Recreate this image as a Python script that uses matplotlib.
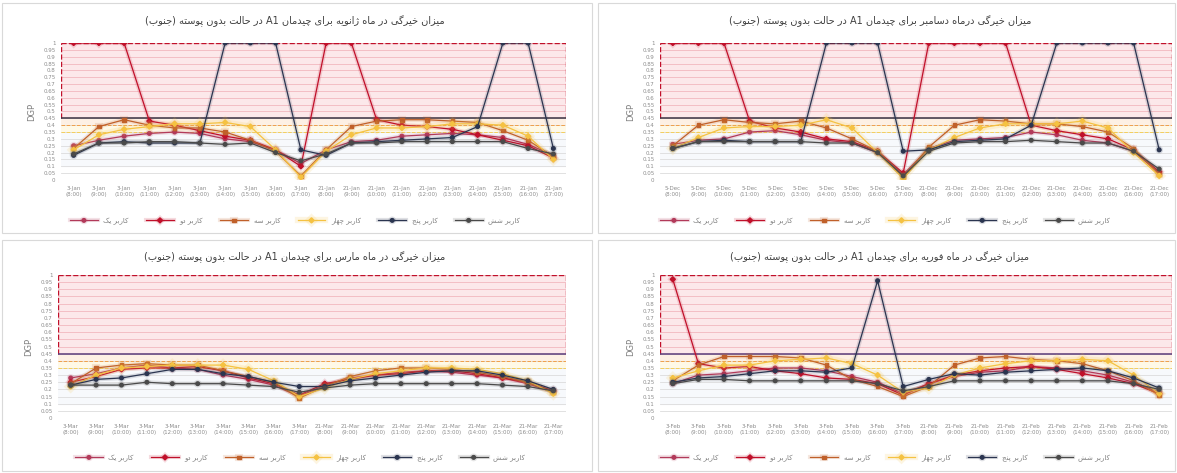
import re
import matplotlib
matplotlib.use("Agg")
import matplotlib.pyplot as plt
import matplotlib.patheffects as pe
from matplotlib.patches import Rectangle

# Persian letter forms: (isolated, final, initial, medial)
# matplotlib does no arabic shaping / bidi, so do a small one by hand
FORMS = {
    'ا': ('\uFE8D', '\uFE8E', None, None),
    'ب': ('\uFE8F', '\uFE90', '\uFE91', '\uFE92'),
    'پ': ('\uFB56', '\uFB57', '\uFB58', '\uFB59'),
    'ت': ('\uFE95', '\uFE96', '\uFE97', '\uFE98'),
    'ج': ('\uFE9D', '\uFE9E', '\uFE9F', '\uFEA0'),
    'چ': ('\uFB7A', '\uFB7B', '\uFB7C', '\uFB7D'),
    'ح': ('\uFEA1', '\uFEA2', '\uFEA3', '\uFEA4'),
    'خ': ('\uFEA5', '\uFEA6', '\uFEA7', '\uFEA8'),
    'د': ('\uFEA9', '\uFEAA', None, None),
    'ر': ('\uFEAD', '\uFEAE', None, None),
    'ز': ('\uFEAF', '\uFEB0', None, None),
    'ژ': ('\uFB8A', '\uFB8B', None, None),
    'س': ('\uFEB1', '\uFEB2', '\uFEB3', '\uFEB4'),
    'ش': ('\uFEB5', '\uFEB6', '\uFEB7', '\uFEB8'),
    'ف': ('\uFED1', '\uFED2', '\uFED3', '\uFED4'),
    'ک': ('\uFB8E', '\uFB8F', '\uFB90', '\uFB91'),
    'گ': ('\uFB92', '\uFB93', '\uFB94', '\uFB95'),
    'ل': ('\uFEDD', '\uFEDE', '\uFEDF', '\uFEE0'),
    'م': ('\uFEE1', '\uFEE2', '\uFEE3', '\uFEE4'),
    'ن': ('\uFEE5', '\uFEE6', '\uFEE7', '\uFEE8'),
    'و': ('\uFEED', '\uFEEE', None, None),
    'ه': ('\uFEE9', '\uFEEA', '\uFEEB', '\uFEEC'),
    'ی': ('\uFBFC', '\uFBFD', '\uFBFE', '\uFBFF'),
}


def fa(text):
    out = []
    for i, c in enumerate(text):
        if c not in FORMS:
            out.append(c)
            continue
        prev = text[i - 1] if i > 0 else ''
        nxt = text[i + 1] if i + 1 < len(text) else ''
        jp = prev in FORMS and FORMS[prev][2] is not None
        jn = nxt in FORMS and FORMS[c][2] is not None
        iso, fin, ini, med = FORMS[c]
        if jp and jn:
            out.append(med)
        elif jp:
            out.append(fin)
        elif jn:
            out.append(ini)
        else:
            out.append(iso)
    vis = ''.join(out)[::-1]
    vis = re.sub(r'[A-Za-z0-9]+', lambda m: m.group(0)[::-1], vis)
    return vis.translate(str.maketrans('()', ')('))


hours = ['8:00', '9:00', '10:00', '11:00', '12:00', '13:00', '14:00', '15:00', '16:00', '17:00']
users = ['کاربر یک', 'کاربر دو', 'کاربر سه', 'کاربر چهار', 'کاربر پنج', 'کاربر شش']

# ---------------- January ----------------
jan_days = ['3-Jan', '21-Jan']
jan_u1 = [0.25, 0.29, 0.32, 0.34, 0.35, 0.34, 0.30, 0.28, 0.22, 0.12, 0.22, 0.28, 0.29, 0.32, 0.33, 0.34, 0.33, 0.31, 0.26, 0.18]
jan_u2 = [1.00, 1.00, 1.00, 0.43, 0.40, 0.36, 0.32, 0.29, 0.22, 0.10, 1.00, 1.00, 0.44, 0.40, 0.39, 0.37, 0.33, 0.29, 0.25, 0.16]
jan_u3 = [0.23, 0.39, 0.44, 0.40, 0.38, 0.38, 0.35, 0.29, 0.21, 0.03, 0.22, 0.39, 0.43, 0.44, 0.44, 0.43, 0.42, 0.36, 0.29, 0.17]
jan_u4 = [0.22, 0.33, 0.37, 0.39, 0.41, 0.41, 0.42, 0.39, 0.22, 0.02, 0.21, 0.33, 0.38, 0.38, 0.39, 0.41, 0.41, 0.40, 0.32, 0.15]
jan_u5 = [0.18, 0.27, 0.28, 0.27, 0.27, 0.27, 1.00, 1.00, 1.00, 0.22, 0.18, 0.27, 0.28, 0.29, 0.30, 0.31, 0.39, 1.00, 1.00, 0.23]
jan_u6 = [0.19, 0.27, 0.27, 0.28, 0.28, 0.27, 0.26, 0.27, 0.20, 0.14, 0.19, 0.27, 0.27, 0.28, 0.28, 0.28, 0.28, 0.28, 0.23, 0.19]

# ---------------- December ----------------
dec_days = ['5-Dec', '21-Dec']
dec_u1 = [0.26, 0.29, 0.30, 0.35, 0.36, 0.33, 0.29, 0.27, 0.20, 0.04, 0.23, 0.29, 0.30, 0.31, 0.35, 0.33, 0.29, 0.27, 0.21, 0.05]
dec_u2 = [1.00, 1.00, 1.00, 0.43, 0.38, 0.35, 0.30, 0.28, 0.21, 0.05, 1.00, 1.00, 1.00, 1.00, 0.40, 0.36, 0.33, 0.30, 0.22, 0.06]
dec_u3 = [0.25, 0.40, 0.44, 0.42, 0.41, 0.43, 0.38, 0.30, 0.21, 0.02, 0.24, 0.40, 0.44, 0.43, 0.41, 0.41, 0.39, 0.35, 0.23, 0.04]
dec_u4 = [0.23, 0.31, 0.38, 0.39, 0.39, 0.40, 0.44, 0.38, 0.20, 0.01, 0.22, 0.31, 0.38, 0.41, 0.41, 0.41, 0.43, 0.38, 0.20, 0.03]
dec_u5 = [0.23, 0.28, 0.29, 0.28, 0.28, 0.28, 1.00, 1.00, 1.00, 0.21, 0.22, 0.28, 0.29, 0.30, 0.40, 1.00, 1.00, 1.00, 1.00, 0.22]
dec_u6 = [0.23, 0.28, 0.28, 0.28, 0.28, 0.28, 0.27, 0.27, 0.20, 0.03, 0.21, 0.27, 0.28, 0.28, 0.29, 0.28, 0.27, 0.27, 0.21, 0.08]

# ---------------- March ----------------
mar_days = ['3-Mar', '21-Mar']
mar_u1 = [0.28, 0.31, 0.35, 0.37, 0.35, 0.34, 0.30, 0.27, 0.23, 0.15, 0.23, 0.28, 0.30, 0.32, 0.33, 0.32, 0.30, 0.28, 0.24, 0.18]
mar_u2 = [0.25, 0.29, 0.34, 0.35, 0.35, 0.36, 0.33, 0.28, 0.24, 0.16, 0.24, 0.27, 0.30, 0.31, 0.33, 0.33, 0.31, 0.28, 0.25, 0.19]
mar_u3 = [0.24, 0.35, 0.37, 0.38, 0.37, 0.37, 0.33, 0.29, 0.25, 0.14, 0.22, 0.29, 0.33, 0.35, 0.35, 0.34, 0.32, 0.29, 0.25, 0.18]
mar_u4 = [0.22, 0.30, 0.35, 0.36, 0.37, 0.37, 0.37, 0.34, 0.26, 0.15, 0.21, 0.27, 0.31, 0.33, 0.35, 0.35, 0.34, 0.31, 0.26, 0.17]
mar_u5 = [0.23, 0.27, 0.28, 0.31, 0.34, 0.34, 0.31, 0.29, 0.25, 0.22, 0.22, 0.26, 0.28, 0.30, 0.32, 0.33, 0.33, 0.30, 0.26, 0.20]
mar_u6 = [0.23, 0.23, 0.23, 0.25, 0.24, 0.24, 0.24, 0.23, 0.22, 0.18, 0.21, 0.23, 0.24, 0.24, 0.24, 0.24, 0.24, 0.23, 0.22, 0.19]

# ---------------- February ----------------
feb_days = ['3-Feb', '21-Feb']
feb_u1 = [0.24, 0.30, 0.31, 0.33, 0.35, 0.35, 0.33, 0.29, 0.25, 0.17, 0.24, 0.29, 0.32, 0.33, 0.36, 0.35, 0.33, 0.30, 0.25, 0.18]
feb_u2 = [0.97, 0.38, 0.35, 0.36, 0.33, 0.31, 0.28, 0.27, 0.24, 0.16, 0.24, 0.30, 0.33, 0.35, 0.36, 0.34, 0.31, 0.28, 0.24, 0.17]
feb_u3 = [0.26, 0.37, 0.43, 0.43, 0.43, 0.42, 0.37, 0.27, 0.22, 0.15, 0.22, 0.37, 0.42, 0.43, 0.41, 0.40, 0.38, 0.33, 0.26, 0.16]
feb_u4 = [0.28, 0.33, 0.37, 0.37, 0.40, 0.41, 0.42, 0.38, 0.30, 0.18, 0.21, 0.30, 0.35, 0.38, 0.40, 0.40, 0.41, 0.40, 0.30, 0.17]
feb_u5 = [0.25, 0.28, 0.29, 0.31, 0.33, 0.33, 0.32, 0.35, 0.96, 0.22, 0.27, 0.31, 0.30, 0.32, 0.33, 0.34, 0.35, 0.33, 0.28, 0.21]
feb_u6 = [0.24, 0.27, 0.27, 0.26, 0.26, 0.26, 0.26, 0.26, 0.24, 0.19, 0.22, 0.26, 0.26, 0.26, 0.26, 0.26, 0.26, 0.26, 0.24, 0.20]

titles = {
    'jan': 'میزان خیرگی در ماه ژانویه برای چیدمان A1 در حالت بدون پوسته (جنوب)',
    'dec': 'میزان خیرگی درماه دسامبر برای چیدمان A1 در حالت بدون پوسته (جنوب)',
    'mar': 'میزان خیرگی در ماه مارس برای چیدمان A1 در حالت بدون پوسته (جنوب)',
    'feb': 'میزان خیرگی در ماه فوریه برای چیدمان A1 در حالت بدون پوسته (جنوب)',
}

colors = ['#B23A5A', '#C0102A', '#C0602A', '#F5C242', '#2B3550', '#4A4A4A']
markers = ['o', 'D', 's', 'D', 'o', 'o']

W, H = 1177, 473
fig = plt.figure(figsize=(W / 100, H / 100), dpi=100)


def px(x0, y0, x1, y1):
    # pixel box -> figure fraction [left, bottom, width, height]
    return [x0 / W, 1 - y1 / H, (x1 - x0) / W, (y1 - y0) / H]


def panel(frame, axbox, title_xy, legend_xy, key, days, series, mid_color):
    fig.add_artist(Rectangle((frame[0], frame[1]), frame[2], frame[3],
                             transform=fig.transFigure, fill=False,
                             edgecolor='#D9D9D9', lw=0.8))
    ax = fig.add_axes(axbox)
    n = len(series[0])
    x = list(range(n))

    # glare zones
    ax.axhspan(0.45, 1.0, color='#FCE8EA', zorder=0)
    ax.axhspan(0.40, 0.45, color='#FDF0E4', zorder=0)
    ax.axhspan(0.35, 0.40, color='#FFF9E6', zorder=0)
    ax.axhspan(0.10, 0.35, color='#F7F9FC', zorder=0)
    ticks = [i * 0.05 for i in range(21)]
    for t in ticks:
        ax.axhline(t, color='#F2B8BE' if t > 0.45 else '#DCDCDC', lw=0.6, zorder=1)
    ax.plot([-0.5, 19.5], [1, 1], color='#C0102A', ls='--', lw=1.0, zorder=2)
    ax.plot([-0.5, -0.5], [0.45, 1], color='#C0102A', ls='--', lw=1.0, zorder=2)
    ax.plot([19.5, 19.5], [0.45, 1], color='#C0102A', ls='--', lw=1.0, zorder=2)
    ax.axhline(0.40, color='#F0A04B', ls='--', lw=0.7, zorder=2)
    ax.axhline(0.35, color='#F5CF5B', ls='--', lw=0.7, zorder=2)
    ax.axhline(0.45, color=mid_color, lw=1.1, zorder=2)

    for i, (vals, name) in enumerate(zip(series, users)):
        glow = 4.5 if i == 3 else 3
        ax.plot(x, vals, color=colors[i], lw=0.9, marker=markers[i], ms=2.6,
                label=fa(name), zorder=5 + i,
                path_effects=[pe.Stroke(linewidth=glow, foreground=colors[i], alpha=0.15),
                              pe.Normal()])

    ax.set_xlim(-0.5, n - 0.5)
    ax.set_ylim(0, 1.0)
    ax.set_yticks(ticks)
    ax.set_yticklabels([f'{round(t, 2):g}' for t in ticks])
    labels = [f'{d}\n({h})' for d in days for h in hours]
    ax.set_xticks(x)
    ax.set_xticklabels(labels, linespacing=1.4)
    ax.tick_params(axis='both', length=0, labelsize=4, colors='#8C8C8C', pad=4)
    ax.set_ylabel('DGP', fontsize=6, color='#7F7F7F', labelpad=5)
    for s in ax.spines.values():
        s.set_visible(False)
    ax.set_facecolor('white')

    fig.text(title_xy[0] / W, 1 - title_xy[1] / H, fa(titles[key]),
             ha='center', va='center', fontsize=7, color='#404040')
    ax.legend(loc='center', bbox_to_anchor=(legend_xy[0] / W, 1 - legend_xy[1] / H),
              bbox_transform=fig.transFigure, ncol=6, frameon=False,
              fontsize=5, handlelength=4, columnspacing=2.5, labelcolor='#7F7F7F')
    return ax


panel((2 / W, 1 - 233 / H, 590 / W, 230 / H), px(61, 43, 566, 180), (295, 21), (295, 221),
      'jan', jan_days, [jan_u1, jan_u2, jan_u3, jan_u4, jan_u5, jan_u6], '#3A3040')
panel((598 / W, 1 - 233 / H, 577 / W, 230 / H), px(660, 43, 1172, 180), (880, 21), (885, 221),
      'dec', dec_days, [dec_u1, dec_u2, dec_u3, dec_u4, dec_u5, dec_u6], '#3A3040')
panel((2 / W, 1 - 471 / H, 590 / W, 231 / H), px(58, 275, 566, 418), (295, 257), (300, 458),
      'mar', mar_days, [mar_u1, mar_u2, mar_u3, mar_u4, mar_u5, mar_u6], '#5B3A78')
panel((598 / W, 1 - 471 / H, 577 / W, 231 / H), px(660, 275, 1172, 418), (880, 257), (885, 458),
      'feb', feb_days, [feb_u1, feb_u2, feb_u3, feb_u4, feb_u5, feb_u6], '#5B3A78')

fig.savefig('out.png', dpi=100)
